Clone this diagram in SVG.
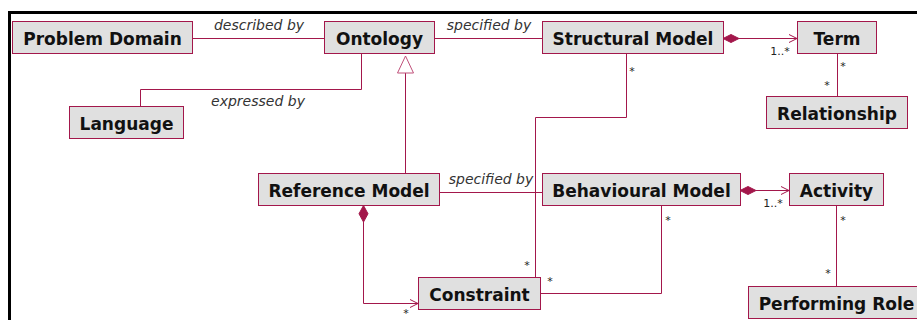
<svg xmlns="http://www.w3.org/2000/svg" width="917" height="320" viewBox="0 0 917 320">
<style>
.node rect{fill:#e0e0e0;stroke:#a3174b;stroke-width:1}
.node text{font-family:"DejaVu Sans",Verdana,sans-serif;font-weight:bold;font-size:17px;fill:#111;text-anchor:middle}
.c{fill:none;stroke:#a3174b;stroke-width:1}
.d{fill:#a3174b;stroke:#a3174b;stroke-width:1}
.g{fill:#fff;stroke:#c0507a;stroke-width:1}
.lbl{font-family:"DejaVu Sans",Verdana,sans-serif;font-style:italic;font-size:14px;fill:#333}
.m{font-family:"DejaVu Sans",Verdana,sans-serif;font-size:11px;fill:#222;text-anchor:middle}
</style>
<rect width="917" height="320" fill="#fff"/>
<rect x="9.5" y="12.5" width="1000" height="400" fill="none" stroke="#000" stroke-width="3"/>
<g id="connectors">
<path class="c" d="M192.5,38.5 H324.5"/>
<text class="lbl" x="259" y="30" text-anchor="middle">described by</text>
<path class="c" d="M434.5,38.5 H542.5"/>
<text class="lbl" x="489" y="30" text-anchor="middle">specified by</text>
<path class="c" d="M361.5,53.5 V89.5 H140.5 V106.5"/>
<text class="lbl" x="258" y="106" text-anchor="middle">expressed by</text>
<path class="c" d="M405.5,73 V173.5"/>
<polygon class="g" points="405.5,56 397.5,73 413.5,73"/>
<path class="c" d="M739,38.5 H797"/>
<path class="d" d="M723,38.5 L731,34.5 L739,38.5 L731,42.5 Z"/>
<path class="c" d="M789,34.5 L797,38.5 L789,42.5"/>
<text class="m" x="780" y="55">1..*</text>
<path class="c" d="M837.5,53.5 V96.5"/>
<text class="m" x="843" y="69.5">*</text>
<text class="m" x="827" y="88.5">*</text>
<path class="c" d="M626.5,53.5 V117.5 H535.5 V277.5"/>
<text class="m" x="632" y="74.5">*</text>
<text class="m" x="527" y="268.5">*</text>
<path class="c" d="M439.5,192.5 H542.5"/>
<text class="lbl" x="491" y="184" text-anchor="middle">specified by</text>
<path class="c" d="M756,190.5 H789"/>
<path class="d" d="M740,190.5 L748,186.5 L756,190.5 L748,194.5 Z"/>
<path class="c" d="M781,186.5 L789,190.5 L781,194.5"/>
<text class="m" x="773" y="207">1..*</text>
<path class="c" d="M661.5,205.5 V293.5 H540.5"/>
<text class="m" x="668" y="223.5">*</text>
<text class="m" x="550" y="284.5">*</text>
<path class="c" d="M836.5,205.5 V286.5"/>
<text class="m" x="843" y="224">*</text>
<text class="m" x="828" y="276.5">*</text>
<path class="c" d="M363.5,222 V303.5 H418"/>
<path class="d" d="M363.5,205.5 L359,213.75 L363.5,222 L368,213.75 Z"/>
<path class="c" d="M410,299.5 L418,303.5 L410,307.5"/>
<text class="m" x="406" y="317">*</text>
</g>
<g id="problem-domain" class="node"><rect x="12.5" y="21.5" width="180" height="32"/><text x="102.5" y="45">Problem Domain</text></g>
<g id="ontology" class="node"><rect x="324.5" y="21.5" width="110" height="32"/><text x="379.5" y="45">Ontology</text></g>
<g id="language" class="node"><rect x="69.5" y="106.5" width="114" height="32"/><text x="126.5" y="130">Language</text></g>
<g id="structural-model" class="node"><rect x="542.5" y="21.5" width="181" height="32"/><text x="633" y="45">Structural Model</text></g>
<g id="term" class="node"><rect x="797.5" y="21.5" width="79" height="32"/><text x="837" y="45">Term</text></g>
<g id="relationship" class="node"><rect x="766.5" y="96.5" width="141" height="32"/><text x="837" y="120">Relationship</text></g>
<g id="reference-model" class="node"><rect x="258.5" y="173.5" width="181" height="32"/><text x="349" y="197">Reference Model</text></g>
<g id="behavioural-model" class="node"><rect x="542.5" y="173.5" width="198" height="32"/><text x="641.5" y="197">Behavioural Model</text></g>
<g id="activity" class="node"><rect x="789.5" y="173.5" width="94" height="32"/><text x="836.5" y="197">Activity</text></g>
<g id="constraint" class="node"><rect x="418.5" y="277.5" width="122" height="32"/><text x="479.5" y="301">Constraint</text></g>
<g id="performing-role" class="node"><rect x="748.5" y="286.5" width="176" height="32"/><text x="836.5" y="310">Performing Role</text></g>
</svg>
